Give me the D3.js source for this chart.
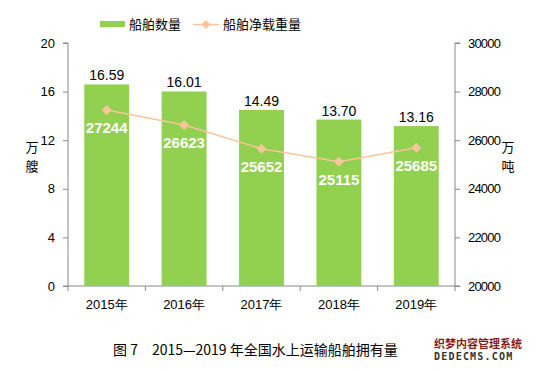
<!DOCTYPE html>
<html><head><meta charset="utf-8">
<script src="https://cdn.jsdelivr.net/npm/d3@7"></script>
<style>body{margin:0;background:#fff}svg{display:block}</style>
</head><body>
<svg id="c" width="540" height="370"></svg>
<script>
const years = ["2015年","2016年","2017年","2018年","2019年"];
const shipCount = [16.59, 16.01, 14.49, 13.70, 13.16];
const netTonnage = [27244, 26623, 25652, 25115, 25685];
const leftTicks = [0,4,8,12,16,20];
const rightTicks = [20000,22000,24000,26000,28000,30000];

const svg = d3.select("#c");
const L = 68, R = 455, T = 43, B = 286;
const x = d3.scaleBand().domain(years).range([L, R]).paddingInner(0.42).paddingOuter(0.21);
const yL = d3.scaleLinear().domain([0,20]).range([B,T]);
const yR = d3.scaleLinear().domain([20000,30000]).range([B,T]);
const font = "'Liberation Sans', Arial, sans-serif";
const cjk = "'Noto Sans CJK SC', sans-serif";
const green = "#92D050", orange = "#F9C59A";

// axes
const gl = svg.append("g").attr("transform",`translate(${L},0)`)
  .call(d3.axisLeft(yL).tickValues(leftTicks).tickSize(5).tickPadding(8));
const gr = svg.append("g").attr("transform",`translate(${R},0)`)
  .call(d3.axisRight(yR).tickValues(rightTicks).tickFormat(d3.format("d")).tickSize(5).tickPadding(8));
[gl,gr].forEach(g=>{
  g.select(".domain").attr("stroke","#888");
  g.selectAll(".tick line").attr("stroke","#888");
  g.selectAll(".tick text").attr("fill","#000").attr("font-family",font).attr("font-size",13);
});
gr.selectAll(".tick text").attr("letter-spacing",-0.8);
gl.select(".domain").attr("d",`M-5,${T}H0V${B}H-5`);
gr.select(".domain").attr("d",`M5,${T}H0V${B}H5`);

// bottom axis
svg.append("line").attr("x1",L).attr("x2",R).attr("y1",B).attr("y2",B).attr("stroke","#888");
const step = x.step();
const bounds = years.map((d,i)=>L + i*step).concat([R]);
svg.selectAll(".bt").data(bounds).join("line")
  .attr("x1",d=>d).attr("x2",d=>d).attr("y1",B).attr("y2",B+5).attr("stroke","#888");
svg.selectAll(".xl").data(years).join("text")
  .attr("x",d=>x(d)+x.bandwidth()/2).attr("y",B+23)
  .attr("text-anchor","middle").attr("font-family",font).attr("font-size",13).text(d=>d);

// bars
svg.selectAll(".bar").data(years).join("rect")
  .attr("x",d=>x(d)).attr("width",x.bandwidth())
  .attr("y",(d,i)=>yL(shipCount[i])).attr("height",(d,i)=>B-yL(shipCount[i]))
  .attr("fill",green);
svg.selectAll(".bl").data(years).join("text")
  .attr("x",d=>x(d)+x.bandwidth()/2).attr("y",(d,i)=>yL(shipCount[i])-4)
  .attr("text-anchor","middle").attr("font-family",font).attr("font-size",14)
  .text((d,i)=>shipCount[i].toFixed(2));

// line
const cx = d=>x(d)+x.bandwidth()/2;
svg.append("path").datum(years)
  .attr("d",d3.line().x(cx).y((d,i)=>yR(netTonnage[i])))
  .attr("fill","none").attr("stroke",orange).attr("stroke-width",1.5);
svg.selectAll(".pt").data(years).join("path")
  .attr("d",d3.symbol(d3.symbolSquare, 50))
  .attr("transform",(d,i)=>`translate(${cx(d)},${yR(netTonnage[i])}) rotate(45)`)
  .attr("fill",orange);
svg.selectAll(".pl").data(years).join("text")
  .attr("x",cx).attr("y",(d,i)=>yR(netTonnage[i])+23)
  .attr("text-anchor","middle").attr("font-family",font).attr("font-size",15)
  .attr("font-weight","bold").attr("fill","#fff")
  .text((d,i)=>netTonnage[i]);

// axis titles
[["万",32,152],["艘",32,171],["万",508,152],["吨",508,171]].forEach(([t,xx,yy])=>{
  svg.append("text").attr("x",xx).attr("y",yy).attr("text-anchor","middle")
    .attr("font-family",cjk).attr("font-size",13).text(t);
});

// legend
svg.append("rect").attr("x",100).attr("y",21).attr("width",25).attr("height",6).attr("fill",green);
svg.append("text").attr("x",129).attr("y",29).attr("font-family",cjk).attr("font-size",13).text("船舶数量");
svg.append("line").attr("x1",193).attr("x2",219).attr("y1",24.5).attr("y2",24.5).attr("stroke",orange).attr("stroke-width",1.5);
svg.append("path").attr("d",d3.symbol(d3.symbolSquare,40)).attr("transform","translate(206,24.5) rotate(45)").attr("fill",orange);
svg.append("text").attr("x",223).attr("y",29).attr("font-family",cjk).attr("font-size",13).text("船舶净载重量");

// caption
svg.append("text").attr("x",113).attr("y",355).attr("font-family",cjk).attr("font-size",14)
  .text("图 7　2015—2019 年全国水上运输船舶拥有量");
svg.append("text").attr("x",434).attr("y",348).attr("font-family",cjk).attr("font-size",11).attr("font-weight","bold")
  .attr("fill","#8B1A1A").text("织梦内容管理系统");
svg.append("text").attr("x",434).attr("y",360).attr("font-family","'DejaVu Sans Mono', monospace").attr("font-size",10).attr("font-weight","bold")
  .attr("fill","#333").attr("letter-spacing",1.2).text("DEDECMS.COM");
</script>
</body></html>
